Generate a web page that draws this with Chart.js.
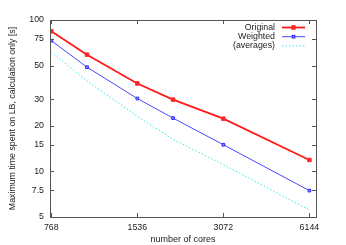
<!DOCTYPE html>
<html>
<head>
<meta charset="utf-8">
<script src="https://cdn.jsdelivr.net/npm/chart.js@4.4.1/dist/chart.umd.min.js"></script>
<style>
  html, body { margin: 0; padding: 0; background: #fff; }
  #wrap { width: 346px; height: 245px; }
</style>
</head>
<body>
<div id="wrap"><canvas id="chart"></canvas></div>
<script>
// values
var cores = [768, 1024, 1536, 2048, 3072, 6144];
var original = [84.2, 59.0, 38.1, 29.8, 22.3, 11.9];
var weighted = [73.0, 48.8, 30.3, 22.5, 15.0, 7.47];
var averages = [61.5, 39.5, 23.1, 16.3, 11.1, 5.56];
var xTicks = [768, 1536, 3072, 6144];
var yTicks = [5, 7.5, 10, 15, 20, 30, 50, 75, 100];

var FONT = "'Liberation Sans', Arial, sans-serif";

function pts(ys) {
  return cores.map(function(c, i) { return { x: c, y: ys[i] }; });
}

// gnuplot-like inward ticks on all four sides
var frameTicks = {
  id: "frameTicks",
  afterDraw: function(chart) {
    var ctx = chart.ctx, a = chart.chartArea;
    var xs = chart.scales.x, ys = chart.scales.y;
    var len = 4;
    ctx.save();
    ctx.strokeStyle = "#555";
    ctx.lineWidth = 1;
    ctx.beginPath();
    xs.ticks.forEach(function(t) {
      var px = Math.round(xs.getPixelForValue(t.value)) + 0.5;
      ctx.moveTo(px, a.bottom); ctx.lineTo(px, a.bottom - len);
      ctx.moveTo(px, a.top); ctx.lineTo(px, a.top + len);
    });
    ys.ticks.forEach(function(t) {
      var py = Math.round(ys.getPixelForValue(t.value)) + 0.5;
      ctx.moveTo(a.left, py); ctx.lineTo(a.left + len, py);
      ctx.moveTo(a.right, py); ctx.lineTo(a.right - len, py);
    });
    ctx.stroke();
    ctx.strokeRect(Math.round(a.left) + 0.5, Math.round(a.top) + 0.5,
                   Math.round(a.right - a.left), Math.round(a.bottom - a.top));
    ctx.restore();
  }
};

// key in the top right corner, text right-aligned, sample on the right
var keyBox = {
  id: "keyBox",
  afterDraw: function(chart) {
    var ctx = chart.ctx, a = chart.chartArea;
    var textRight = a.right - 41;
    var x1 = a.right - 34, x2 = a.right - 11;
    ctx.save();
    ctx.font = "8.8px " + FONT;
    ctx.textAlign = "right";
    ctx.textBaseline = "middle";
    chart.data.datasets.forEach(function(ds, i) {
      var y = a.top + 7.5 + i * 9.2;
      ctx.fillStyle = "#222";
      ctx.fillText(ds.label, textRight, y);
      ctx.strokeStyle = ds.borderColor;
      ctx.lineWidth = ds.borderWidth;
      ctx.setLineDash(ds.borderDash || []);
      ctx.beginPath();
      ctx.moveTo(x1, y); ctx.lineTo(x2, y);
      ctx.stroke();
      ctx.setLineDash([]);
      if (ds.pointRadius > 0) {
        var s = ds.pointRadius * Math.SQRT2;
        var cx = (x1 + x2) / 2;
        ctx.fillStyle = ds.pointBackgroundColor;
        ctx.fillRect(cx - s / 2, y - s / 2, s, s);
        ctx.lineWidth = 1;
        ctx.strokeStyle = ds.pointBorderColor;
        ctx.strokeRect(cx - s / 2, y - s / 2, s, s);
      }
    });
    ctx.restore();
  }
};

new Chart(document.getElementById("chart"), {
  type: "line",
  data: {
    datasets: [
      {
        label: "Original",
        data: pts(original),
        borderColor: "#ff1a1a",
        borderWidth: 1.8,
        pointStyle: "rect",
        pointRadius: 2.5,
        pointBackgroundColor: "#ff2020",
        pointBorderColor: "#ff3030",
        pointBorderWidth: 1,
        tension: 0
      },
      {
        label: "Weighted",
        data: pts(weighted),
        borderColor: "#4848ff",
        borderWidth: 1,
        pointStyle: "rect",
        pointRadius: 1.9,
        pointBackgroundColor: "#8c8cff",
        pointBorderColor: "#2a2aff",
        pointBorderWidth: 1,
        tension: 0
      },
      {
        label: "(averages)",
        data: pts(averages),
        borderColor: "#30e8f0",
        borderWidth: 1,
        borderDash: [1.5, 2],
        pointRadius: 0,
        tension: 0
      }
    ]
  },
  options: {
    responsive: true,
    maintainAspectRatio: false,
    animation: false,
    layout: { padding: { top: 20, right: 30, left: 0, bottom: 0 } },
    plugins: {
      legend: { display: false },
      tooltip: { enabled: false }
    },
    scales: {
      x: {
        type: "logarithmic",
        min: 760,
        max: 6480,
        afterBuildTicks: function(s) { s.ticks = xTicks.map(function(v) { return { value: v }; }); },
        afterFit: function(s) { s.height = 28; },
        grid: { display: false, drawTicks: false },
        border: { display: false },
        ticks: {
          autoSkip: false, maxRotation: 0, padding: 5,
          color: "#222", font: { size: 8.8, family: FONT },
          callback: function(v) { return String(v); }
        },
        title: {
          display: true, text: "number of cores", color: "#222",
          font: { size: 9, family: FONT }, padding: { top: 1, bottom: 0 }
        }
      },
      y: {
        type: "logarithmic",
        min: 5,
        max: 100,
        afterBuildTicks: function(s) { s.ticks = yTicks.map(function(v) { return { value: v }; }); },
        afterFit: function(s) { s.width = 50; },
        grid: { display: false, drawTicks: false },
        border: { display: false },
        ticks: {
          autoSkip: false, padding: 6,
          color: "#222", font: { size: 8.8, family: FONT },
          callback: function(v) { return String(v); }
        },
        title: {
          display: true, text: "Maximum time spent on LB, calculation only [s]", color: "#222",
          font: { size: 8.8, family: FONT }, padding: { top: 7.2, bottom: 0 }
        }
      }
    }
  },
  plugins: [frameTicks, keyBox]
});
</script>
</body>
</html>
